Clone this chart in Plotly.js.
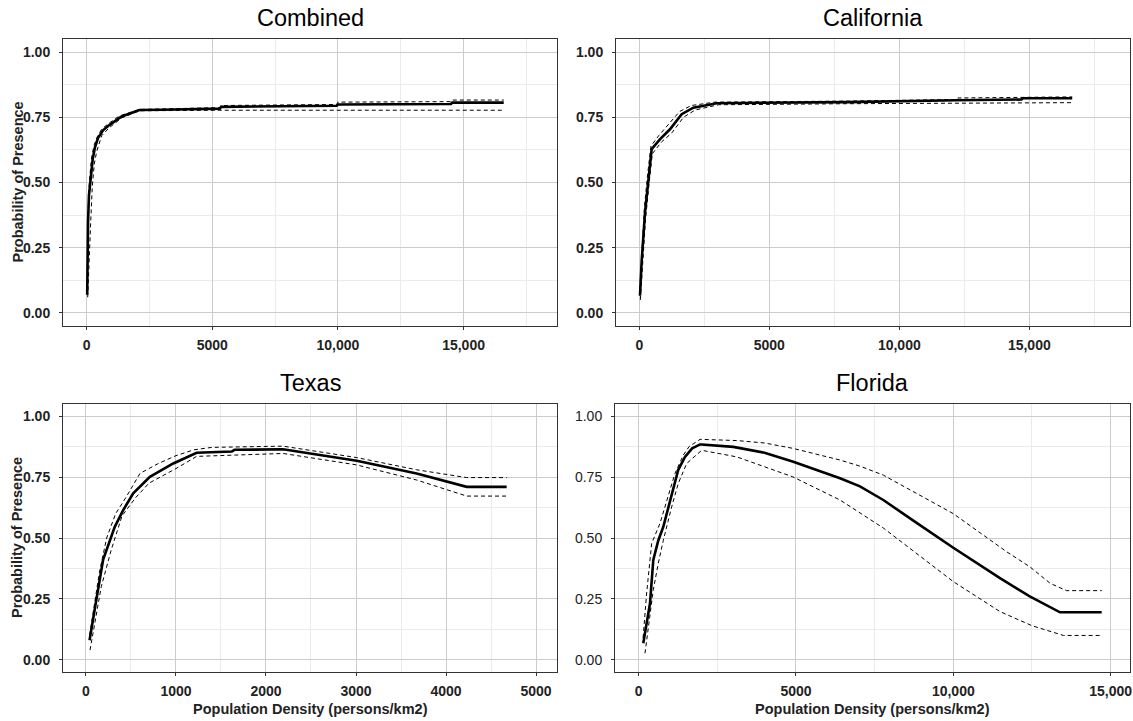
<!DOCTYPE html>
<html>
<head>
<meta charset="utf-8">
<script src="https://cdn.plot.ly/plotly-3.0.1.min.js"></script>
<style>html,body{margin:0;padding:0;background:#fff;}#chart{width:1133px;height:721px;}</style>
</head>
<body>
<div id="chart"></div>
<script>
// ---------- DATA ----------
const panelTitles = ["Combined", "California", "Texas", "Florida"];
const yTickVals = [0, 0.25, 0.5, 0.75, 1];
const yTickText = ["0.00", "0.25", "0.50", "0.75", "1.00"];
const wideTickVals = [0, 5000, 10000, 15000];
const wideTickText = ["0", "5000", "10,000", "15,000"];
const texasTickVals = [0, 1000, 2000, 3000, 4000, 5000];
const texasTickText = ["0", "1000", "2000", "3000", "4000", "5000"];

// Combined
const combFitX = [20, 35, 55, 90, 160, 240, 330, 450, 650, 900, 1390, 1700, 1990, 2100, 3000, 4000, 5300, 5350, 8000, 9950, 10000, 12000, 14500, 14550, 16600];
const combFitY = [0.07, 0.22, 0.35, 0.45, 0.52, 0.59, 0.635, 0.67, 0.70, 0.72, 0.753, 0.765, 0.775, 0.778, 0.779, 0.781, 0.783, 0.79, 0.792, 0.794, 0.799, 0.80, 0.801, 0.806, 0.806];
const combUpX = [15, 30, 45, 75, 130, 200, 300, 420, 600, 900, 1300, 1800, 2100, 5300, 5350, 9950, 10000, 14500, 14550, 16600];
const combUpY = [0.08, 0.24, 0.36, 0.46, 0.53, 0.60, 0.645, 0.675, 0.705, 0.728, 0.755, 0.772, 0.78, 0.787, 0.795, 0.799, 0.808, 0.81, 0.816, 0.816];
const combLoX = [40, 100, 160, 220, 300, 400, 600, 900, 1400, 2000, 2200, 5300, 16600];
const combLoY = [0.06, 0.25, 0.35, 0.48, 0.57, 0.62, 0.68, 0.71, 0.748, 0.771, 0.775, 0.777, 0.777];

// California
const caFitX = [27, 92, 220, 350, 475, 800, 1180, 1630, 2080, 2980, 5000, 8000, 12200, 14700, 14750, 16650];
const caFitY = [0.066, 0.2, 0.385, 0.513, 0.628, 0.666, 0.704, 0.762, 0.787, 0.804, 0.805, 0.808, 0.815, 0.818, 0.823, 0.823];
const caUpX = [20, 90, 200, 330, 450, 750, 1100, 1550, 2000, 2900, 8000, 12200, 12250, 16650];
const caUpY = [0.09, 0.23, 0.41, 0.54, 0.64, 0.68, 0.72, 0.772, 0.795, 0.808, 0.812, 0.818, 0.824, 0.828];
const caLoX = [40, 120, 240, 370, 500, 850, 1250, 1700, 2150, 3050, 8000, 16650];
const caLoY = [0.05, 0.17, 0.36, 0.49, 0.61, 0.655, 0.69, 0.75, 0.778, 0.798, 0.802, 0.806];

// Texas
const txFitX = [40, 120, 190, 320, 415, 525, 710, 970, 1230, 1620, 1650, 2190, 3008, 3674, 4230, 4674];
const txFitY = [0.08, 0.26, 0.41, 0.546, 0.615, 0.683, 0.751, 0.806, 0.85, 0.855, 0.862, 0.864, 0.817, 0.765, 0.71, 0.71];
const txUpX = [40, 80, 150, 230, 330, 450, 600, 800, 1000, 1200, 1400, 2190, 3008, 3674, 4230, 4674];
const txUpY = [0.10, 0.20, 0.36, 0.50, 0.60, 0.67, 0.765, 0.805, 0.838, 0.862, 0.872, 0.877, 0.83, 0.78, 0.748, 0.748];
const txLoX = [45, 100, 170, 280, 400, 550, 700, 1000, 1230, 2190, 3008, 3674, 4230, 4674];
const txLoY = [0.04, 0.15, 0.30, 0.45, 0.59, 0.665, 0.725, 0.785, 0.835, 0.847, 0.80, 0.738, 0.672, 0.672];

// Florida
const flFitX = [146, 250, 360, 464, 623, 782, 995, 1100, 1258, 1471, 1700, 1950, 2003, 3007, 4000, 4914, 5600, 6400, 7034, 7776, 8800, 10000, 11484, 12430, 13392, 14717];
const flFitY = [0.068, 0.15, 0.232, 0.41, 0.49, 0.546, 0.656, 0.71, 0.78, 0.833, 0.868, 0.884, 0.884, 0.874, 0.85, 0.813, 0.782, 0.745, 0.712, 0.656, 0.565, 0.46, 0.335, 0.26, 0.195, 0.195];
const flUpX = [140, 250, 413, 677, 995, 1154, 1418, 1600, 1894, 1950, 3115, 4000, 4900, 6400, 7034, 7776, 10000, 11690, 12430, 13080, 13600, 14717];
const flUpY = [0.09, 0.27, 0.478, 0.56, 0.697, 0.765, 0.84, 0.875, 0.90, 0.905, 0.90, 0.89, 0.868, 0.82, 0.795, 0.758, 0.60, 0.444, 0.382, 0.314, 0.284, 0.284];
const flLoX = [200, 464, 623, 782, 1049, 1258, 1525, 2003, 3115, 4900, 6400, 7776, 10000, 11484, 12500, 13500, 14717];
const flLoY = [0.027, 0.287, 0.396, 0.49, 0.628, 0.724, 0.806, 0.86, 0.833, 0.751, 0.656, 0.541, 0.321, 0.198, 0.14, 0.10, 0.10];

// ---------- BUILD ----------
const fitLine = {color: "#000000", width: 2.6};
const ciLine = {color: "#000000", width: 1, dash: "4px,3px"};
const panels = [
  {fit: [combFitX, combFitY], up: [combUpX, combUpY], lo: [combLoX, combLoY]},
  {fit: [caFitX, caFitY], up: [caUpX, caUpY], lo: [caLoX, caLoY]},
  {fit: [txFitX, txFitY], up: [txUpX, txUpY], lo: [txLoX, txLoY]},
  {fit: [flFitX, flFitY], up: [flUpX, flUpY], lo: [flLoX, flLoY]}
];
const traces = [];
panels.forEach((p, i) => {
  const xa = i === 0 ? "x" : "x" + (i + 1);
  const ya = i === 0 ? "y" : "y" + (i + 1);
  [["up", ciLine], ["lo", ciLine], ["fit", fitLine]].forEach(([k, ln]) => {
    traces.push({x: p[k][0], y: p[k][1], xaxis: xa, yaxis: ya, type: "scatter", mode: "lines",
      line: ln, hoverinfo: "skip", showlegend: false});
  });
});

const W = 1133, H = 721;
const fontFam = "Liberation Sans, Arial, sans-serif";
const boxes = [
  {x0: 63, x1: 557, y0: 39, y1: 326},
  {x0: 616, x1: 1130, y0: 39, y1: 326},
  {x0: 63, x1: 557, y0: 404, y1: 672},
  {x0: 615, x1: 1130, y0: 404, y1: 672}
];
const xRanges = [[-943, 18720], [-896, 18873], [-255, 5233], [-753, 15617]];
const xTicks = [[wideTickVals, wideTickText], [wideTickVals, wideTickText], [texasTickVals, texasTickText], [wideTickVals, wideTickText]];
const xMinor = [[2500, 7500, 12500, 17500], [2500, 7500, 12500, 17500], [500, 1500, 2500, 3500, 4500], [2500, 7500, 12500]];

const layout = {
  width: W, height: H,
  margin: {l: 0, r: 0, t: 0, b: 0},
  paper_bgcolor: "#ffffff", plot_bgcolor: "#ffffff",
  font: {family: fontFam, color: "#222222"},
  showlegend: false,
  annotations: []
};
boxes.forEach((b, i) => {
  const sfx = i === 0 ? "" : String(i + 1);
  const common = {
    showline: true, mirror: true, linecolor: "#333333", linewidth: 1,
    showgrid: true, gridcolor: "#cccccc", gridwidth: 1, zeroline: false,
    ticks: "outside", ticklen: 3, tickcolor: "#333333", tickwidth: 1,
    fixedrange: true
  };
  layout["xaxis" + sfx] = Object.assign({}, common, {
    domain: [b.x0 / W, b.x1 / W], anchor: "y" + sfx, range: xRanges[i],
    tickmode: "array", tickvals: xTicks[i][0], ticktext: xTicks[i][1],
    ticklabelstandoff: 3,
    tickfont: {size: 14, weight: "bold", color: "#222222", family: fontFam},
    minor: {tickmode: "array", tickvals: xMinor[i], showgrid: true, gridcolor: "#ebebeb", gridwidth: 1, ticks: ""}
  });
  layout["yaxis" + sfx] = Object.assign({}, common, {
    domain: [1 - b.y1 / H, 1 - b.y0 / H], anchor: "x" + sfx, range: [-0.05, 1.05],
    tickmode: "array", tickvals: yTickVals, ticktext: yTickText,
    ticklabelstandoff: 6,
    tickfont: {size: 14, weight: i === 3 ? "normal" : "bold", color: "#222222", family: fontFam},
    minor: {tickmode: "array", tickvals: [0.125, 0.375, 0.625, 0.875], showgrid: true, gridcolor: "#ebebeb", gridwidth: 1, ticks: ""}
  });
  // panel title
  layout.annotations.push({
    text: panelTitles[i], xref: "paper", yref: "paper",
    x: (b.x0 + b.x1) / 2 / W, y: 1 - (b.y0 - 21) / H,
    xanchor: "center", yanchor: "middle", showarrow: false,
    font: {size: 23.5, color: "#000000", family: fontFam}
  });
  if (i === 0 || i === 2) {
    layout.annotations.push({
      text: "Probability of Presence", xref: "paper", yref: "paper",
      x: 17 / W, y: 1 - (b.y0 + b.y1) / 2 / H, textangle: -90,
      xanchor: "center", yanchor: "middle", showarrow: false,
      font: {size: 14.5, weight: "bold", color: "#222222", family: fontFam}
    });
  }
  if (i >= 2) {
    layout.annotations.push({
      text: "Population Density (persons/km2)", xref: "paper", yref: "paper",
      x: (b.x0 + b.x1) / 2 / W, y: 1 - 709 / H,
      xanchor: "center", yanchor: "middle", showarrow: false,
      font: {size: 14.5, weight: "bold", color: "#222222", family: fontFam}
    });
  }
});

Plotly.newPlot("chart", traces, layout, {displayModeBar: false, staticPlot: true});
</script>
</body>
</html>
